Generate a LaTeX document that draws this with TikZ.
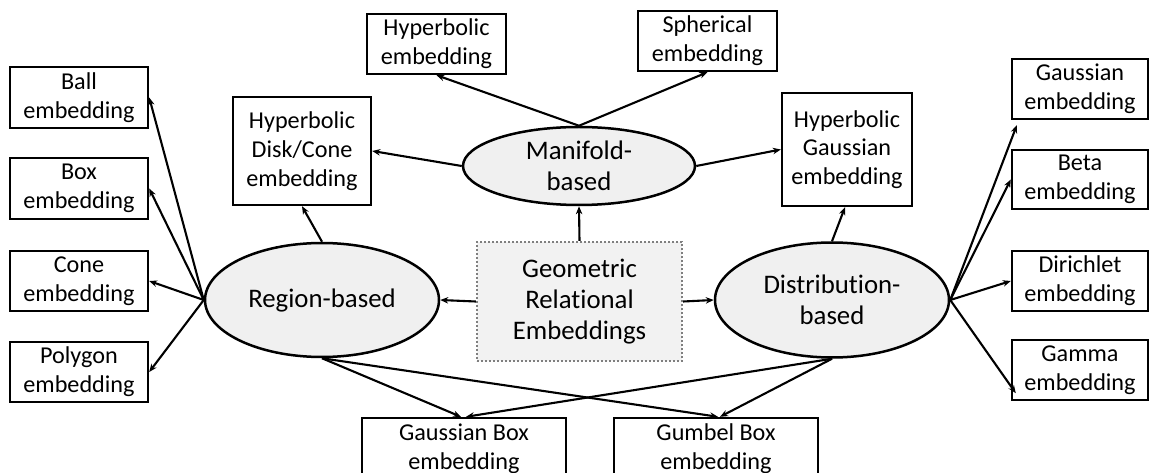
\documentclass[tikz,border=0pt]{standalone}
\usepackage{fontspec}
\setmainfont[Ligatures=NoCommon]{Carlito}
\usetikzlibrary{shapes.geometric,arrows.meta,calc}
\definecolor{ellfill}{HTML}{F0F0F0}
\definecolor{ctrfill}{HTML}{F2F2F2}
\definecolor{dotcol}{HTML}{7F7F7F}
\begin{document}
\begin{tikzpicture}[x=1pt,y=-1pt,
  leaf/.style={draw=black,line width=2.4pt,fill=white,inner sep=0pt,align=center,
    font=\fontsize{24.2}{28.8}\selectfont},
  cat/.style={ellipse,draw=black,line width=2.5pt,fill=ellfill,inner sep=0pt,align=center,
    font=\fontsize{26.8}{31}\selectfont},
  root/.style={draw=dotcol,line width=2.2pt,dash pattern=on 2pt off 2pt,fill=ctrfill,
    inner sep=0pt,align=center,font=\fontsize{26.8}{31}\selectfont},
  arr/.style={line width=2.1pt,-{Stealth[length=8pt,width=6.5pt]}}]
\useasboundingbox (0,0) rectangle (1149,473);
% left column
\node[leaf,minimum width=138pt,minimum height=61pt] (ball) at (79,97.5) {Ball\\embedding};
\node[leaf,minimum width=138pt,minimum height=61pt] (box) at (79,188.5) {Box\\embedding};
\node[leaf,minimum width=138pt,minimum height=60pt] (cone) at (79,281) {Cone\\embedding};
\node[leaf,minimum width=138pt,minimum height=60pt] (poly) at (79,372) {Polygon\\embedding};
% upper boxes
\node[leaf,minimum width=138pt,minimum height=108pt] (disk) at (302,151) {Hyperbolic\\Disk/Cone\\embedding};
\node[leaf,minimum width=139pt,minimum height=60pt] (hyp) at (436.5,44) {Hyperbolic\\embedding};
\node[leaf,minimum width=139pt,minimum height=60pt] (sph) at (707.5,41) {Spherical\\embedding};
\node[leaf,minimum width=130pt,minimum height=113pt] (hgauss) at (847,149.5) {Hyperbolic\\Gaussian\\embedding};
% right column
\node[leaf,minimum width=136pt,minimum height=60pt] (gauss) at (1080,89) {Gaussian\\embedding};
\node[leaf,minimum width=136pt,minimum height=59pt] (beta) at (1080,179.5) {Beta\\embedding};
\node[leaf,minimum width=136pt,minimum height=60pt] (diri) at (1080,281) {Dirichlet\\embedding};
\node[leaf,minimum width=136pt,minimum height=60pt] (gamma) at (1080,370) {Gamma\\embedding};
% bottom boxes
\node[leaf,minimum width=204pt,minimum height=62pt] (gbox) at (464,449) {Gaussian Box\\embedding};
\node[leaf,minimum width=204pt,minimum height=62pt] (gumbel) at (716,449) {Gumbel Box\\embedding};
% categories
\node[cat,minimum width=234pt,minimum height=114pt] (region) at (322,300) {Region-based};
\node[cat,minimum width=232pt,minimum height=78pt] (manifold) at (579,166) {Manifold-\\based};
\node[cat,minimum width=234pt,minimum height=115pt] (dist) at (832,300) {Distribution-\\based};
\node[root,minimum width=205pt,minimum height=119pt] (geo) at (579.5,301.5) {Geometric\\Relational\\Embeddings};
% connectors
\draw[arr] (geo.west) -- (region.east);
\draw[arr] (geo.east) -- (dist.west);
\draw[arr] (geo.north) -- (manifold.south);
\draw[arr] (region.west) -- (ball.east);
\draw[arr] (region.west) -- (box.east);
\draw[arr] (region.west) -- (cone.east);
\draw[arr] (region.west) -- (poly.east);
\draw[arr] (region.north) -- (disk.south);
\draw[arr] (manifold.north) -- (hyp.south);
\draw[arr] (manifold.north) -- (sph.south);
\draw[arr] (manifold.west) -- (disk.east);
\draw[arr] (manifold.east) -- (hgauss.west);
\draw[arr] (dist.north) -- ($(hgauss.south)+(-2,0)$);
\draw[arr] (dist.east) -- ($(gauss.south west)+(6,5)$);
\draw[arr] (dist.east) -- (beta.west);
\draw[arr] (dist.east) -- (diri.west);
\draw[arr] (dist.east) -- ($(gamma.south west)+(5,-8)$);
\draw[arr] (region.south) -- ($(gbox.north)+(-3,0)$);
\draw[arr] (region.south) -- ($(gumbel.north)+(2,0)$);
\draw[arr] (dist.south) -- ($(gbox.north)+(2,0)$);
\draw[arr] (dist.south) -- ($(gumbel.north)+(4,0)$);
\end{tikzpicture}
\end{document}
